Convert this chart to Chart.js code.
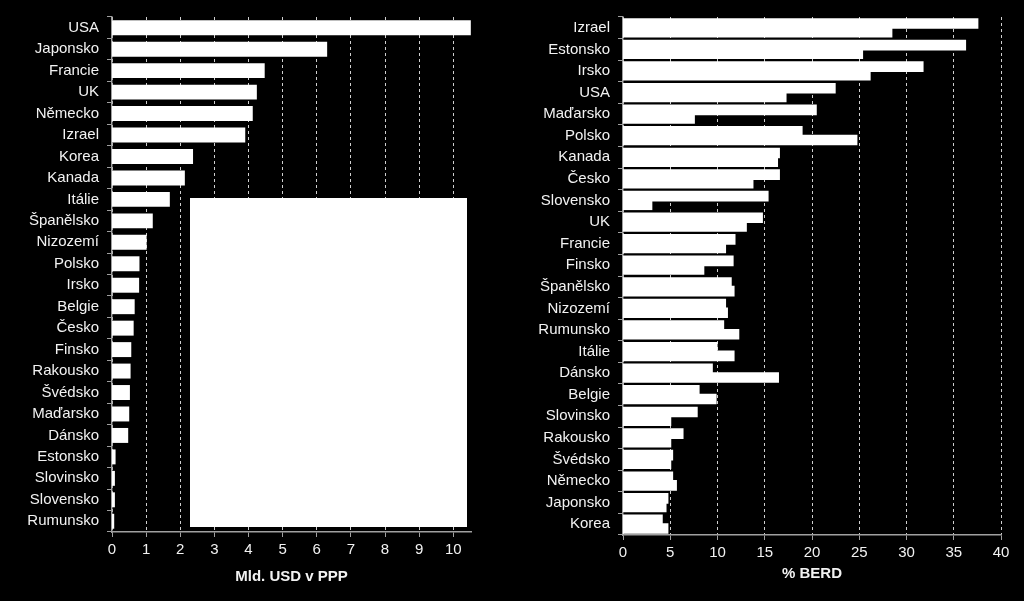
<!DOCTYPE html>
<html lang="cs">
<head>
    <meta charset="UTF-8">
    <title>Výdaje na VaV</title>
    <script src="https://cdn.jsdelivr.net/npm/chart.js@4.4.0/dist/chart.umd.min.js"></script>
    <style>
        body {
            margin: 0;
            padding: 0;
            background-color: #000;
            width: 1024px;
            height: 601px;
            overflow: hidden;
            position: relative;
        }

        #leftChart {
            position: absolute;
            left: 0;
            top: 0;
        }

        #rightChart {
            position: absolute;
            left: 512px;
            top: 0;
        }
    </style>
</head>
<body>
    <canvas id="leftChart" width="500" height="601"></canvas>
    <canvas id="rightChart" width="512" height="601"></canvas>

    <script>
        // levý graf - Mld. USD v PPP
        const leftCountries = ['USA', 'Japonsko', 'Francie', 'UK', 'Německo', 'Izrael', 'Korea', 'Kanada', 'Itálie',
            'Španělsko', 'Nizozemí', 'Polsko', 'Irsko', 'Belgie', 'Česko', 'Finsko', 'Rakousko', 'Švédsko',
            'Maďarsko', 'Dánsko', 'Estonsko', 'Slovinsko', 'Slovensko', 'Rumunsko'];
        const leftValues = [10.5, 6.29, 4.46, 4.23, 4.11, 3.89, 2.36, 2.12, 1.68,
            1.18, 1.0, 0.79, 0.78, 0.65, 0.62, 0.55, 0.53, 0.51,
            0.49, 0.46, 0.09, 0.07, 0.07, 0.05];
        const leftTicks = [0, 1, 2, 3, 4, 5, 6, 7, 8, 9, 10];

        // pravý graf - % BERD
        const rightCountries = ['Izrael', 'Estonsko', 'Irsko', 'USA', 'Maďarsko', 'Polsko', 'Kanada', 'Česko',
            'Slovensko', 'UK', 'Francie', 'Finsko', 'Španělsko', 'Nizozemí', 'Rumunsko', 'Itálie', 'Dánsko',
            'Belgie', 'Slovinsko', 'Rakousko', 'Švédsko', 'Německo', 'Japonsko', 'Korea'];
        const rightSeriesA = [37.5, 36.2, 31.7, 22.4, 20.4, 18.9, 16.5, 16.5,
            15.3, 14.7, 11.8, 11.6, 11.4, 10.8, 10.6, 9.9, 9.4,
            8.0, 7.8, 6.3, 5.2, 5.2, 4.7, 4.1];
        const rightSeriesB = [28.4, 25.3, 26.1, 17.2, 7.5, 24.7, 16.3, 13.7,
            3.0, 13.0, 10.8, 8.5, 11.7, 11.0, 12.2, 11.7, 16.4,
            9.8, 5.0, 5.0, 5.0, 5.6, 4.5, 4.7];
        const rightTicks = [0, 5, 10, 15, 20, 25, 30, 35, 40];

        const textColor = '#f2f2f2';
        const axisColor = '#a0a0a0';
        const fontFamily = "'Liberation Sans', Arial, sans-serif";

        Chart.defaults.font.family = fontFamily;
        Chart.defaults.color = textColor;

        // bílý obdélník v levém grafu
        const whiteBox = {
            id: 'whiteBox',
            beforeDatasetsDraw(chart) {
                const ctx = chart.ctx;
                ctx.save();
                ctx.fillStyle = '#fff';
                ctx.fillRect(190, 198, 277, 329);
                ctx.restore();
            }
        };

        function makeOptions(ticks, maxVal, yWidth, xHeight, title, titleBottom) {
            return {
                indexAxis: 'y',
                responsive: false,
                animation: false,
                layout: { padding: { top: 0, right: 0, bottom: 0, left: 0 } },
                plugins: {
                    legend: { display: false },
                    tooltip: { enabled: false }
                },
                scales: {
                    x: {
                        type: 'linear',
                        min: 0,
                        max: maxVal,
                        afterBuildTicks: (axis) => {
                            axis.ticks = ticks.map(v => ({ value: v }));
                        },
                        afterFit: (axis) => { axis.height = xHeight; },
                        ticks: {
                            color: textColor,
                            font: { size: 15 },
                            padding: 4
                        },
                        grid: {
                            color: '#cfcfcf',
                            lineWidth: 1,
                            tickColor: axisColor,
                            tickLength: 5
                        },
                        border: {
                            display: true,
                            color: axisColor,
                            width: 1.5,
                            dash: [3, 3]
                        },
                        title: {
                            display: true,
                            text: title,
                            color: textColor,
                            font: { size: 15, weight: 'bold' },
                            padding: { top: 8, bottom: titleBottom }
                        }
                    },
                    y: {
                        type: 'category',
                        afterFit: (axis) => { axis.width = yWidth; },
                        ticks: {
                            color: textColor,
                            font: { size: 15 },
                            padding: 8,
                            autoSkip: false
                        },
                        grid: {
                            drawOnChartArea: false,
                            drawTicks: true,
                            tickLength: 5,
                            color: axisColor
                        },
                        border: {
                            display: true,
                            color: axisColor,
                            width: 1.5
                        }
                    }
                }
            };
        }

        const leftOpts = makeOptions(leftTicks, 10.52, 112, 69, 'Mld. USD v PPP', 15);
        leftOpts.layout.padding = { top: 14, right: 29, bottom: 0, left: 0 };

        new Chart(document.getElementById('leftChart'), {
            type: 'bar',
            data: {
                labels: leftCountries,
                datasets: [{
                    data: leftValues,
                    backgroundColor: '#fff',
                    borderWidth: 0,
                    inflateAmount: 0.5,
                    categoryPercentage: 0.65,
                    barPercentage: 1
                }]
            },
            options: leftOpts,
            plugins: [whiteBox]
        });

        const rightOpts = makeOptions(rightTicks, 40, 111, 66, '% BERD', 18);
        rightOpts.layout.padding = { top: 15, right: 23, bottom: 0, left: 0 };

        new Chart(document.getElementById('rightChart'), {
            type: 'bar',
            data: {
                labels: rightCountries,
                datasets: [{
                    data: rightSeriesA,
                    backgroundColor: '#fff',
                    borderWidth: 0,
                    inflateAmount: 1,
                    categoryPercentage: 0.8,
                    barPercentage: 1
                }, {
                    data: rightSeriesB,
                    backgroundColor: '#fff',
                    borderWidth: 0,
                    inflateAmount: 1,
                    categoryPercentage: 0.8,
                    barPercentage: 1
                }]
            },
            options: rightOpts
        });
    </script>
</body>
</html>
